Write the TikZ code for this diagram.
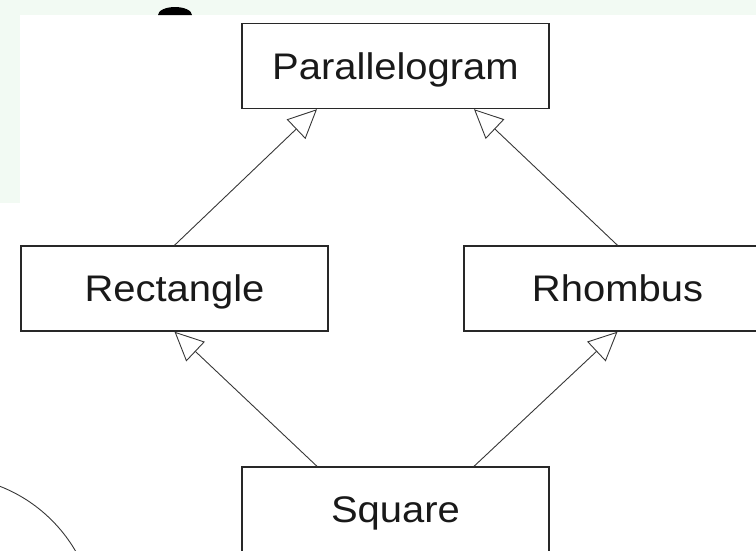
\documentclass[tikz,border=0pt]{standalone}
\usepackage{fontspec}
\setmainfont{Liberation Sans}
\usetikzlibrary{arrows.meta}
\definecolor{mint}{RGB}{242,250,243}
\definecolor{boxline}{RGB}{40,40,40}
\definecolor{conn}{RGB}{55,55,55}
\definecolor{txt}{RGB}{25,25,25}
\newcommand\wtext[1]{\scalebox{1.08}[1]{#1}}
\begin{document}
\begin{tikzpicture}[x=1pt,y=-1pt,
  cls/.style={draw=boxline, line width=1.4pt, fill=white, text=txt,
    minimum width=307pt, minimum height=85pt, inner sep=0pt,
    text height=26.5pt, text depth=0pt, font=\fontsize{37}{44}\selectfont},
  gen/.style={draw=conn, line width=0.9pt,
    -{Triangle[open, length=29pt, width=27pt]}}]
\useasboundingbox (0,0) rectangle (756,550);
\begin{scope}
\clip (0,0) rectangle (756,550);
\fill[mint] (0,0) rectangle (756,15);
\fill[mint] (0,0) rectangle (20,203);
\fill[black] (158,15) arc[start angle=180, end angle=360, x radius=17, y radius=8] -- cycle;
\draw[conn, line width=0.9pt] (-55,627) circle[radius=151];
\node[cls] (para) at (395.5,66) {\wtext{Parallelogram}};
\node[cls] (rect) at (174.5,288.5) {\wtext{Rectangle}};
\node[cls] (rhomb) at (617.5,288.5) {\wtext{Rhombus}};
\node[cls] (square) at (395.5,509.5) {\wtext{Square}};
\draw[gen] (rect.north) -- ([xshift=-78.5pt]para.south);
\draw[gen] (rhomb.north) -- ([xshift=78.5pt]para.south);
\draw[gen] ([xshift=-78.5pt]square.north) -- (rect.south);
\draw[gen] ([xshift=78.5pt]square.north) -- (rhomb.south);
\end{scope}
\end{tikzpicture}
\end{document}
